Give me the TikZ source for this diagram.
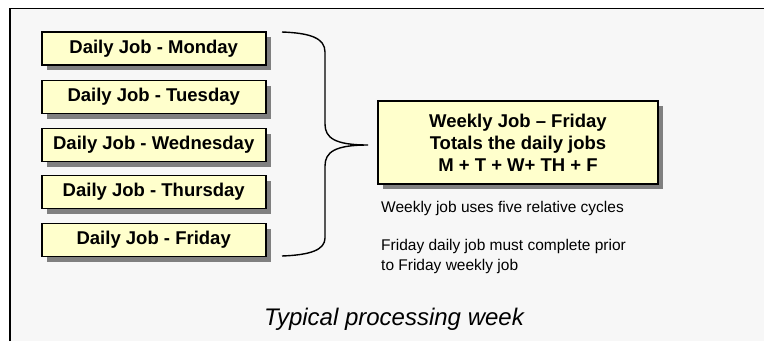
\documentclass[tikz,border=0pt]{standalone}
\usepackage{fontspec}
\setmainfont{Liberation Sans}
\usetikzlibrary{shadows}
\definecolor{boxfill}{RGB}{255,255,204}
\definecolor{panelbg}{RGB}{247,247,247}
\definecolor{shadowgray}{RGB}{128,128,128}
\begin{document}
\begin{tikzpicture}[x=1pt,y=-1pt,
  jobbox/.style={draw=black, line width=1.6pt, fill=boxfill,
    minimum width=224pt, minimum height=33pt, inner sep=0pt,
    font=\fontsize{18.5}{22}\selectfont\bfseries,
    drop shadow={shadow xshift=5pt, shadow yshift=-5pt, fill=shadowgray, opacity=1}},
  weekbox/.style={jobbox, minimum width=280pt, minimum height=83pt, align=center},
  note/.style={anchor=base west, inner sep=0pt, align=left,
    font=\fontsize{15.5}{20}\selectfont},
  caption/.style={anchor=base, inner sep=0pt,
    font=\fontsize{24}{28}\selectfont\itshape},
  bracestroke/.style={draw=black, line width=1.4pt}]
\useasboundingbox (0,0) rectangle (764,341);
\fill[panelbg] (10,8.5) rectangle (764,341);
\draw[line width=1.6pt] (10,341) -- (10,8.5) -- (764,8.5);

\node[jobbox] (mon) at (153.7,48.3) {Daily Job - Monday};
\node[jobbox] (tue) at (153.7,97) {Daily Job - Tuesday};
\node[jobbox] (wed) at (153.7,145) {Daily Job - Wednesday};
\node[jobbox] (thu) at (153.7,192) {Daily Job - Thursday};
\node[jobbox] (fri) at (153.7,240) {Daily Job - Friday};

\node[weekbox] (week) at (518,142.5) {Weekly Job -- Friday\\Totals the daily jobs\\M + T + W+ TH + F};

\coordinate (btop) at (282,32);
\coordinate (bbot) at (282,256);
\coordinate (btip) at (368,145);
\draw[bracestroke] (btop) .. controls (310,33) and (325,38) .. (325,52)
  -- (325,124) .. controls (325,138) and (335,145) .. (btip)
  .. controls (335,145) and (325,152) .. (325,166)
  -- (325,238) .. controls (325,250) and (310,255) .. (bbot);

\node[note] (n1) at (381,212.7) {Weekly job uses five relative cycles};
\node[note] (n2) at (381,270.7) {Friday daily job must complete prior\\to Friday weekly job};

\node[caption] (cap) at (394,325) {Typical processing week};
\end{tikzpicture}
\end{document}
